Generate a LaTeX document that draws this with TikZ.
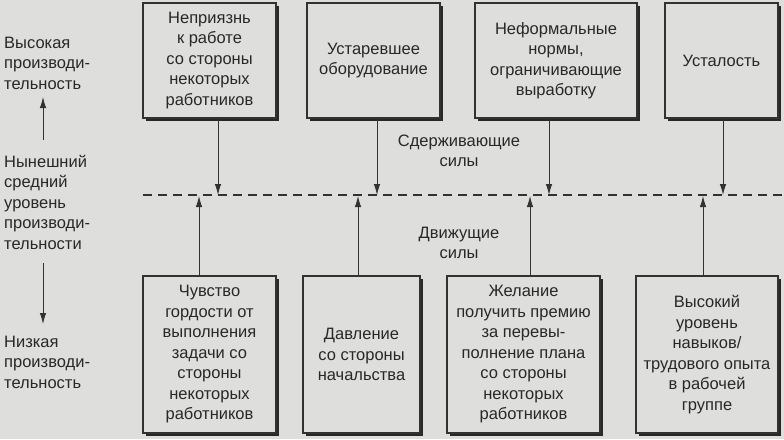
\documentclass[tikz,border=0pt]{standalone}
\usepackage{fontspec}
\setmainfont{Liberation Sans}
\usetikzlibrary{shadows,arrows.meta}
\definecolor{bgc}{RGB}{222,222,220}
\definecolor{ink}{RGB}{40,40,40}
\definecolor{lnc}{RGB}{50,50,50}
\tikzset{
  box/.style={draw=lnc, line width=1.1pt, fill=bgc, text=ink, align=center,
    inner sep=0pt, font=\fontsize{16.5}{20.5}\selectfont,
    drop shadow={shadow xshift=2.5pt, shadow yshift=-2.5pt, fill=ink, opacity=1}},
  lbl/.style={text=ink, align=left, inner sep=0pt, font=\fontsize{16.5}{20.5}\selectfont},
  clbl/.style={text=ink, align=center, inner sep=0pt, font=\fontsize{16.5}{20.5}\selectfont},
  arr/.style={draw=lnc, line width=0.9pt, -{Latex[length=11pt,width=6.5pt]}},
  dline/.style={draw=lnc, line width=1.1pt, dash pattern=on 9pt off 6pt}
}
\begin{document}
\begin{tikzpicture}[x=1pt,y=-1pt]
\useasboundingbox[fill=bgc] (0,0) rectangle (784,439);
% top boxes
\node[box, minimum width=133pt, minimum height=115pt] (t1) at (209.5,60.5) {Неприязнь\\к работе\\со стороны\\некоторых\\работников};
\node[box, minimum width=133pt, minimum height=115pt] (t2) at (373.5,60.5) {Устаревшее\\оборудование};
\node[box, minimum width=162pt, minimum height=115pt] (t3) at (556,60.5) {Неформальные\\нормы,\\ограничивающие\\выработку};
\node[box, minimum width=113pt, minimum height=115pt] (t4) at (721.5,60.5) {Усталость};
% bottom boxes
\node[box, minimum width=133pt, minimum height=157pt] (b1) at (209.5,354.5) {Чувство\\гордости от\\выполнения\\задачи со\\стороны\\некоторых\\работников};
\node[box, minimum width=117pt, minimum height=157pt] (b2) at (361.5,354.5) {Давление\\со стороны\\начальства};
\node[box, minimum width=153pt, minimum height=157pt] (b3) at (523.5,354.5) {Желание\\получить премию\\за перевы-\\полнение плана\\со стороны\\некоторых\\работников};
\node[box, minimum width=142pt, minimum height=157pt] (b4) at (707,354.5) {Высокий\\уровень\\навыков/\\трудового опыта\\в рабочей\\группе};
% dashed line
\coordinate (ds) at (143,195);
\coordinate (de) at (784,195);
\draw[dline] (ds) -- (de);
% down arrows
\coordinate (d1) at (218,195);
\coordinate (d2) at (377,195);
\coordinate (d3) at (549,195);
\coordinate (d4) at (723,195);
\draw[arr] (t1.south -| d1) -- (d1);
\draw[arr] (t2.south -| d2) -- (d2);
\draw[arr] (t3.south -| d3) -- (d3);
\draw[arr] (t4.south -| d4) -- (d4);
% up arrows
\coordinate (u1) at (199,196);
\coordinate (u2) at (358,196);
\coordinate (u3) at (530,196);
\coordinate (u4) at (703,196);
\draw[arr] (b1.north -| u1) -- (u1);
\draw[arr] (b2.north -| u2) -- (u2);
\draw[arr] (b3.north -| u3) -- (u3);
\draw[arr] (b4.north -| u4) -- (u4);
% middle labels
\node[clbl] (sd) at (459,151) {Сдерживающие\\силы};
\node[clbl] (dv) at (459,243) {Движущие\\силы};
% left labels
\node[lbl, anchor=west] (hi) at (4,63) {Высокая\\производи-\\тельность};
\node[lbl, anchor=west] (cur) at (4,202) {Нынешний\\средний\\уровень\\производи-\\тельности};
\node[lbl, anchor=west] (lo) at (4,362) {Низкая\\производи-\\тельность};
\coordinate (hA) at (43,97);
\coordinate (cA) at (43,140);
\coordinate (cB) at (43,263);
\coordinate (lA) at (43,324);
\draw[arr] (cA) -- (hA);
\draw[arr] (cB) -- (lA);
\end{tikzpicture}
\end{document}
